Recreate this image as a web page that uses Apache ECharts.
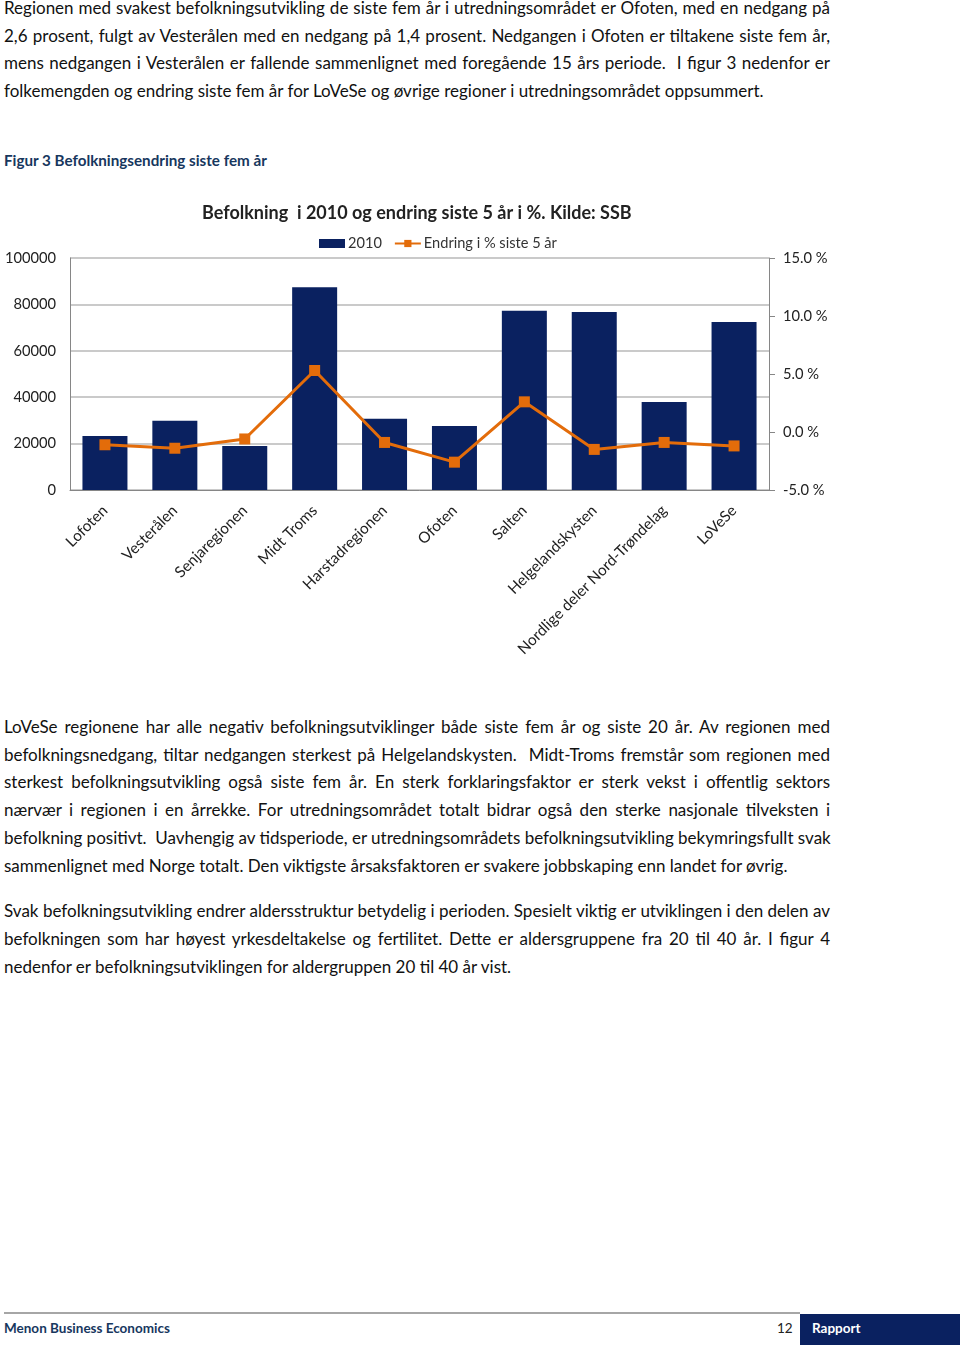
<!DOCTYPE html>
<html><head><meta charset="utf-8">
<script src="https://cdn.jsdelivr.net/npm/echarts@6/dist/echarts.min.js"></script>
<style>
html,body{margin:0;padding:0;background:#fff;}
body{width:960px;height:1345px;position:relative;overflow:hidden;font-family:Lato,"Open Sans",sans-serif;color:#111;}
.ln{position:absolute;left:4px;width:826px;font-size:17px;white-space:nowrap;text-align:justify;text-align-last:justify;line-height:20px;}
.ln.last{text-align-last:left;}
#cap{position:absolute;left:4px;top:151px;font-size:15.2px;font-weight:bold;color:#17375E;}
#chart{position:absolute;left:0;top:180px;width:960px;height:500px;}
#fline{position:absolute;left:4px;top:1312px;width:796px;height:2px;background:#a6a6a6;}
#fl{position:absolute;left:4px;top:1320px;font-size:13.5px;font-weight:bold;color:#17375E;}
#pg{position:absolute;left:777px;top:1320px;font-size:13.5px;color:#222;}
#rb{position:absolute;left:800px;top:1314px;width:160px;height:31px;background:#0a2160;}
#rt{position:absolute;left:812px;top:1320px;font-size:13.5px;font-weight:bold;color:#fff;}
</style></head>
<body>
<div class="ln" style="top:-2px">Regionen med svakest befolkningsutvikling de siste fem år i utredningsområdet er Ofoten, med en nedgang på</div>
<div class="ln" style="top:26px">2,6 prosent, fulgt av Vesterålen med en nedgang på 1,4 prosent. Nedgangen i Ofoten er tiltakene siste fem år,</div>
<div class="ln" style="top:53px">mens nedgangen i Vesterålen er fallende sammenlignet med foregående 15 års periode.&nbsp; I figur 3 nedenfor er</div>
<div class="ln last" style="top:81px">folkemengden og endring siste fem år for LoVeSe og øvrige regioner i utredningsområdet oppsummert.</div>
<div id="cap">Figur 3 Befolkningsendring siste fem år</div>
<div id="chart"></div>
<div class="ln" style="top:717px">LoVeSe regionene har alle negativ befolkningsutviklinger både siste fem år og siste 20 år. Av regionen med</div>
<div class="ln" style="top:745px">befolkningsnedgang, tiltar nedgangen sterkest på Helgelandskysten.&nbsp; Midt-Troms fremstår som regionen med</div>
<div class="ln" style="top:772px">sterkest befolkningsutvikling også siste fem år. En sterk forklaringsfaktor er sterk vekst i offentlig sektors</div>
<div class="ln" style="top:800px">nærvær i regionen i en årrekke. For utredningsområdet totalt bidrar også den sterke nasjonale tilveksten i</div>
<div class="ln" style="top:828px">befolkning positivt.&nbsp; Uavhengig av tidsperiode, er utredningsområdets befolkningsutvikling bekymringsfullt svak</div>
<div class="ln last" style="top:856px">sammenlignet med Norge totalt. Den viktigste årsaksfaktoren er svakere jobbskaping enn landet for øvrig.</div>
<div class="ln" style="top:901px">Svak befolkningsutvikling endrer aldersstruktur betydelig i perioden. Spesielt viktig er utviklingen i den delen av</div>
<div class="ln" style="top:929px">befolkningen som har høyest yrkesdeltakelse og fertilitet. Dette er aldersgruppene fra 20 til 40 år. I figur 4</div>
<div class="ln last" style="top:957px">nedenfor er befolkningsutviklingen for aldergruppen 20 til 40 år vist.</div>
<div id="fline"></div>
<div id="fl">Menon Business Economics</div>
<div id="pg">12</div>
<div id="rb"></div>
<div id="rt">Rapport</div>
<script>
const categories = ["Lofoten","Vesterålen","Senjaregionen","Midt Troms","Harstadregionen","Ofoten","Salten","Helgelandskysten","Nordlige deler Nord-Trøndelag","LoVeSe"];
const population2010 = [23300, 29800, 19000, 87400, 30700, 27600, 77300, 76700, 37900, 72400];
const changePct = [-1.1, -1.4, -0.6, 5.3, -0.9, -2.6, 2.6, -1.5, -0.9, -1.2];
const seriesNames = ["2010", "Endring i % siste 5 år"];
const chartTitle = "Befolkning  i 2010 og endring siste 5 år i %. Kilde: SSB";

const FONT = 'Lato, "Open Sans", sans-serif';
const chart = echarts.init(document.getElementById('chart'), null, {renderer:'canvas'});
chart.setOption({
  animation:false,
  textStyle:{fontFamily:FONT},
  title:{text:chartTitle,left:197,top:19,textStyle:{fontSize:18,fontWeight:'bold',color:'#222',fontFamily:FONT}},
  legend:{left:319,top:56,padding:0,itemGap:12,itemWidth:26,itemHeight:9,textStyle:{fontSize:14.6,color:'#333',padding:[0,0,0,-2]},
    data:[{name:seriesNames[0],icon:'rect'},{name:seriesNames[1]}]},
  grid:{left:70,right:191,top:78,bottom:190},
  xAxis:{type:'category',data:categories,
    axisLine:{lineStyle:{color:'#868686',width:1}},axisTick:{show:false},
    axisLabel:{rotate:45,fontSize:15.3,color:'#222',margin:18,interval:0}},
  yAxis:[
    {type:'value',min:0,max:100000,interval:20000,position:'left',
     axisLine:{show:true,lineStyle:{color:'#868686'}},axisTick:{show:false},
     axisLabel:{fontSize:14.7,color:'#222',margin:14,formatter:v=>String(v)},
     splitLine:{lineStyle:{color:'#b8b8b8',width:1.5}}},
    {type:'value',min:-5,max:15,interval:5,position:'right',
     axisLine:{show:true,lineStyle:{color:'#868686'}},axisTick:{show:true,inside:false,length:6,lineStyle:{color:'#868686'}},
     axisLabel:{fontSize:14.7,color:'#222',margin:14,formatter:v=>v.toFixed(1)+' %'},
     splitLine:{show:false}}
  ],
  series:[
    {name:seriesNames[0],type:'bar',data:population2010,barWidth:45,itemStyle:{color:'#0a2160'},yAxisIndex:0},
    {name:seriesNames[1],type:'line',data:changePct,yAxisIndex:1,symbol:'rect',symbolSize:11,
     lineStyle:{color:'#E36C0A',width:3},itemStyle:{color:'#E36C0A'}}
  ]
});
</script>
</body></html>
